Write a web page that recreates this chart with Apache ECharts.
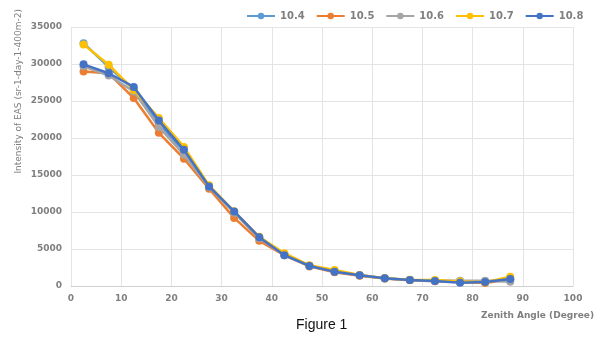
<!DOCTYPE html>
<html>
<head>
<meta charset="utf-8">
<script src="https://cdn.jsdelivr.net/npm/echarts@6/dist/echarts.min.js"></script>
<style>
  html, body { margin: 0; padding: 0; background: #fff; }
  #chart { width: 600px; height: 344px; }
</style>
</head>
<body>
<div id="chart"></div>
<script>
// Zenith angle bin centres (degrees)
const angles = [2.5, 7.5, 12.5, 17.5, 22.5, 27.5, 32.5, 37.5, 42.5, 47.5, 52.5, 57.5, 62.5, 67.5, 72.5, 77.5, 82.5, 87.5];

// EAS intensity per energy bin (log10 E)
const s104 = [32800, 29600, 26600, 22000, 18000, 13500, 10000, 6550, 4300, 2750, 2000, 1450, 1050, 820, 700, 650, 600, 900];
const s105 = [29000, 28750, 25400, 20700, 17200, 13150, 9200, 6100, 4150, 2650, 1850, 1400, 1000, 780, 650, 550, 420, 900];
const s106 = [29700, 28450, 26300, 21500, 17750, 13350, 9900, 6450, 4200, 2700, 1950, 1450, 1030, 800, 720, 720, 700, 580];
const s107 = [32650, 29900, 26500, 22700, 18800, 13600, 10100, 6650, 4430, 2800, 2170, 1500, 1060, 830, 800, 600, 500, 1260];
const s108 = [29950, 28750, 26900, 22350, 18400, 13450, 10070, 6600, 4160, 2710, 1940, 1450, 1040, 810, 680, 450, 540, 950];

const seriesNames = ['10.4', '10.5', '10.6', '10.7', '10.8'];
const seriesValues = [s104, s105, s106, s107, s108];
const colors = ['#5B9BD5', '#ED7D31', '#A5A5A5', '#FFC000', '#4472C4'];

const xTicks = { min: 0, max: 100, interval: 10 };
const yTicks = { min: 0, max: 35000, interval: 5000 };

const chart = echarts.init(document.getElementById('chart'), null, { renderer: 'canvas' });

const labelStyle = { color: '#7f7f7f', fontSize: 9, fontWeight: 'bold', fontFamily: 'DejaVu Sans' };

chart.setOption({
  animation: false,
  backgroundColor: '#ffffff',
  color: colors,
  grid: { left: 71, right: 27, top: 27, bottom: 58 },
  legend: {
    orient: 'horizontal',
    top: 6,
    left: 241,
    width: 355,
    itemWidth: 28,
    itemHeight: 8,
    itemGap: 11,
    textStyle: { color: '#7f7f7f', fontSize: 10, fontWeight: 'bold', fontFamily: 'DejaVu Sans' },
    data: seriesNames
  },
  xAxis: {
    type: 'value',
    min: xTicks.min, max: xTicks.max, interval: xTicks.interval,
    axisLine: { show: true, lineStyle: { color: '#d0d0d0', width: 1 } },
    axisTick: { show: false },
    splitLine: { show: true, lineStyle: { color: '#e4e4e4', width: 1 } },
    axisLabel: Object.assign({ margin: 8 }, labelStyle)
  },
  yAxis: {
    type: 'value',
    min: yTicks.min, max: yTicks.max, interval: yTicks.interval,
    axisLine: { show: false },
    axisTick: { show: false },
    splitLine: { show: true, lineStyle: { color: '#e4e4e4', width: 1 } },
    axisLabel: Object.assign({ margin: 9, formatter: v => String(v) }, labelStyle)
  },
  graphic: [
    {
      type: 'text',
      left: 14, top: 9,
      rotation: Math.PI / 2,
      originX: 0, originY: 0,
      style: {
        text: 'Intensity of EAS (sr-1-day-1-400m-2)',
        fill: '#7f7f7f', fontSize: 9, fontFamily: 'DejaVu Sans'
      }
    },
    {
      type: 'text',
      right: 6, top: 311,
      style: {
        text: 'Zenith Angle (Degree)',
        fill: '#7f7f7f', fontSize: 9, fontWeight: 'bold', fontFamily: 'DejaVu Sans'
      }
    },
    {
      type: 'text',
      left: 296, top: 318,
      style: {
        text: 'Figure 1',
        fill: '#111111', fontSize: 14, fontFamily: 'Liberation Sans Narrow, Liberation Sans'
      }
    }
  ],
  series: seriesNames.map((name, i) => ({
    name: name,
    type: 'line',
    data: angles.map((a, j) => [a, seriesValues[i][j]]),
    symbol: 'circle',
    symbolSize: 8,
    lineStyle: { width: 2.5, color: colors[i] },
    itemStyle: { color: colors[i] },
    z: 2 + i
  }))
});
</script>
</body>
</html>
